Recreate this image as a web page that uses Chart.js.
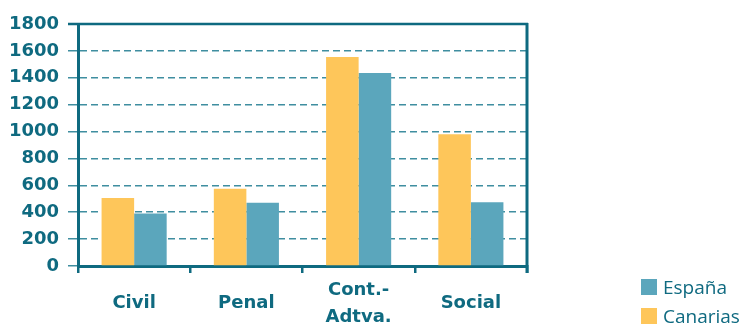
<!DOCTYPE html>
<html>
<head>
<meta charset="utf-8">
<script src="https://cdn.jsdelivr.net/npm/chart.js@4"></script>
<style>
    body { margin: 0; background: #fff; overflow: hidden; }
    #wrap { position: relative; width: 745px; height: 326px; }
    #chart { display: block; }
    #legend { position: absolute; left: 641px; top: 272px; font-family: 'Open Sans', sans-serif; font-size: 19px; color: #0f6a80; white-space: nowrap; }
    .item { display: flex; align-items: center; height: 29px; }
    .box { width: 16px; height: 16px; margin-right: 6px; flex: none; }
</style>
</head>
<body>
<div id="wrap">
    <canvas id="chart" width="745" height="326"></canvas>
    <div id="legend"></div>
</div>
<script>
// DATA
const categories = ['Civil', 'Penal', ['Cont.-', 'Adtva.'], 'Social'];
const canarias = [505, 575, 1555, 980];
const espana = [390, 470, 1435, 475];
const yTicks = [0, 200, 400, 600, 800, 1000, 1200, 1400, 1600, 1800];

const teal = '#0f6a80';

// solid top line + right border like the original frame
const framePlugin = {
    id: 'frame',
    afterDraw(chart) {
        const { ctx, chartArea } = chart;
        ctx.save();
        ctx.strokeStyle = teal;
        ctx.lineWidth = 2.5;
        ctx.beginPath();
        ctx.moveTo(chartArea.left - 10, chartArea.top);
        ctx.lineTo(chartArea.right + 1, chartArea.top);
        ctx.stroke();
        ctx.lineWidth = 3;
        ctx.beginPath();
        ctx.moveTo(chartArea.right, chartArea.top - 1);
        ctx.lineTo(chartArea.right, chartArea.bottom + 7);
        ctx.stroke();
        ctx.restore();
    }
};

const chart = new Chart(document.getElementById('chart'), {
    type: 'bar',
    data: {
        labels: categories,
        datasets: [
            { label: 'Canarias', data: canarias, backgroundColor: '#fec65a' },
            { label: 'España', data: espana, backgroundColor: '#5ba6bc' }
        ]
    },
    options: {
        responsive: false,
        animation: false,
        layout: { padding: { top: 24, right: 218, left: 9, bottom: 0 } },
        categoryPercentage: 0.58,
        barPercentage: 1,
        plugins: { legend: { display: false }, tooltip: { enabled: false } },
        scales: {
            x: {
                afterFit: scale => { scale.height = 60; },
                grid: { drawOnChartArea: false, drawTicks: true, tickLength: 7, color: teal, lineWidth: 2.5 },
                border: { display: true, color: teal, width: 3 },
                ticks: { color: teal, font: { family: 'DejaVu Sans', size: 18, weight: 'bold', lineHeight: 1.5 }, padding: 17, crossAlign: 'center', maxRotation: 0, autoSkip: false }
            },
            y: {
                min: 0,
                max: 1800,
                afterBuildTicks: axis => { axis.ticks = yTicks.map(v => ({ value: v })); },
                afterFit: scale => { scale.width = 69; },
                grid: { color: '#3f8ea0', lineWidth: 1.5, tickLength: 10 },
                border: { display: true, color: teal, width: 3, dash: [7, 4] },
                ticks: { color: teal, font: { family: 'DejaVu Sans', size: 18, weight: 'bold' }, padding: 9, callback: v => String(v) }
            }
        }
    },
    plugins: [framePlugin]
});

// legend (España first, as in the original)
const legend = document.getElementById('legend');
[...chart.data.datasets].reverse().forEach(ds => {
    legend.innerHTML += `<div class="item"><span class="box" style="background:${ds.backgroundColor}"></span>${ds.label}</div>`;
});
</script>
</body>
</html>
